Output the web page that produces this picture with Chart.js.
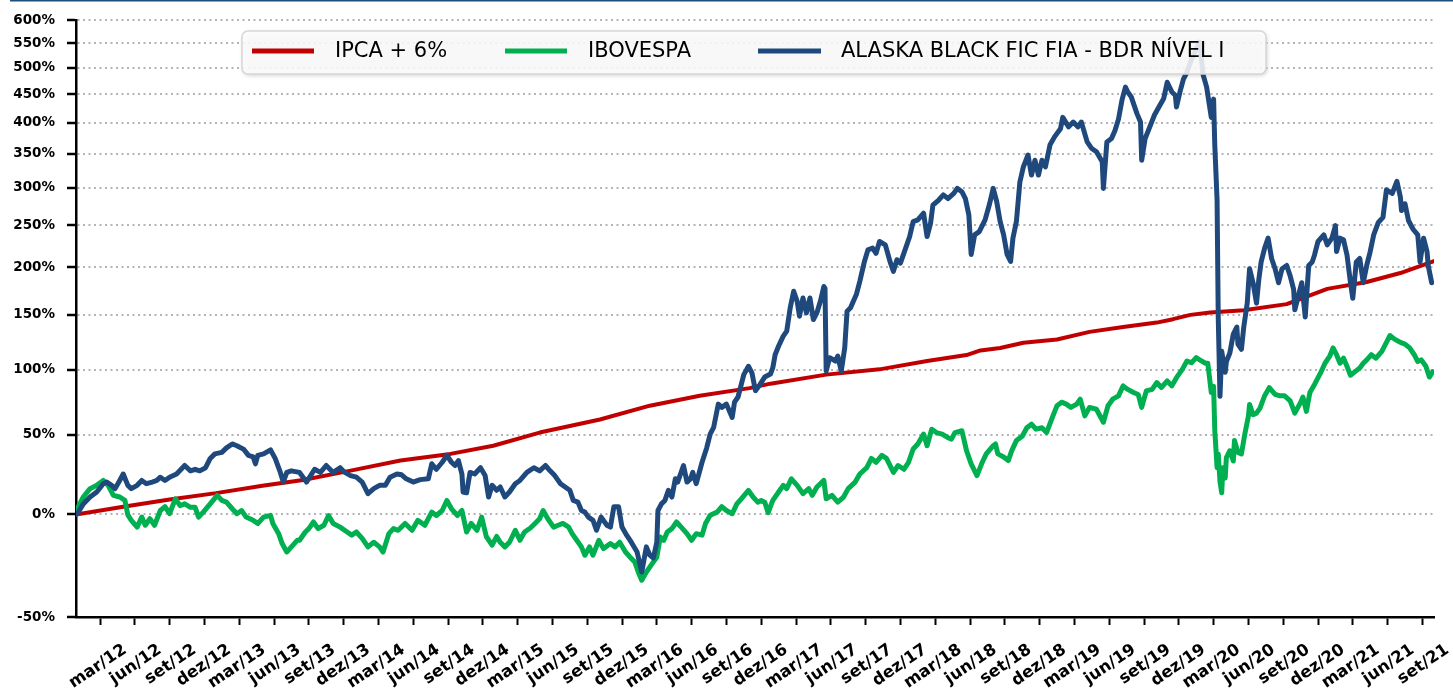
<!DOCTYPE html>
<html>
<head>
<meta charset="utf-8">
<script src="https://cdn.jsdelivr.net/npm/chart.js@4.4.0/dist/chart.umd.min.js"></script>
<style>
html,body{margin:0;padding:0;background:#fff;overflow:hidden}
canvas{display:block}
</style>
</head>
<body>
<canvas id="c" width="1453" height="693"></canvas>
<script>
// ---------- DATA ----------
// x = months since 1 Jan 2012 ; y = accumulated return in %
const seriesNames = ['IPCA + 6%', 'IBOVESPA', 'ALASKA BLACK FIC FIA - BDR NÍVEL I'];

const tickMonths = [2,5,8,11,14,17,20,23,26,29,32,35,38,41,44,47,50,53,56,59,62,65,68,71,74,77,80,83,86,89,92,95,98,101,104,107,110,113,116];
const tickLabels = ['mar/12','jun/12','set/12','dez/12','mar/13','jun/13','set/13','dez/13','mar/14','jun/14','set/14','dez/14',
  'mar/15','jun/15','set/15','dez/15','mar/16','jun/16','set/16','dez/16','mar/17','jun/17','set/17','dez/17',
  'mar/18','jun/18','set/18','dez/18','mar/19','jun/19','set/19','dez/19','mar/20','jun/20','set/20','dez/20',
  'mar/21','jun/21','set/21'];

const yTickPct = [-50,0,50,100,150,200,250,300,350,400,450,500,550,600];

const ipcaSeries = [[-0.07,0],[4,4.3],[8,8.6],[12,12.3],[16,16.8],[19.5,20.3],[23.5,26],[27.9,32.6],[32.2,37],[35.9,42.5],
  [39.9,51.6],[45.1,61],[49.4,71.3],[53.7,79],[58.0,85],[59.8,88.6],[64.6,96],[69.2,100.4],[73.3,107.5],[76.7,112.7],
  [77.9,116.8],[79.6,119],[81.6,123.7],[84.5,126.7],[87.3,133.7],[90.2,138.3],[93.1,142.5],[94.5,145.8],[96.0,150],
  [97.7,152.3],[100.6,154.6],[104.3,160.7],[107.8,176.5],[111.2,183.8],[114.1,193.6],[117,207]];

const ibovSeries = [[-0.07,0],[0.13,4.4],[0.56,10],[1.14,15],[1.72,17],[2.28,20],[2.7,17],[3.15,11],[3.7,10],[4.15,8],
  [4.4,-0.3],[4.7,-3.3],[5.2,-7],[5.6,-1.5],[5.9,-6],[6.3,-2.4],[6.7,-6],[7.2,2.2],[7.6,4.4],[8.0,0.4],[8.5,9],[8.9,5],
  [9.3,6],[9.8,4],[10.2,4],[10.5,-1.5],[10.9,1.3],[11.5,6],[12.1,11],[12.5,8],[12.9,7],[13.4,3.2],[13.8,0.4],[14.2,2.2],
  [14.6,-1.5],[15.2,-3.3],[15.6,-5],[16.1,-1.5],[16.7,-0.5],[16.9,-5],[17.4,-10.5],[17.7,-15.7],[18.1,-20],[18.5,-17.4],
  [19.0,-14],[19.2,-14],[19.7,-9.6],[20.0,-7.8],[20.4,-4.2],[20.8,-7.8],[21.3,-6],[21.7,-0.6],[22.1,-5],[22.7,-7],
  [23.3,-9.6],[23.7,-11.3],[24.1,-9.6],[24.6,-13],[25.1,-17.4],[25.6,-15],[26.1,-17.4],[26.4,-20],[26.9,-10.5],[27.3,-7.8],
  [27.7,-8.7],[28.3,-5],[28.9,-8.7],[29.4,-3.3],[30.0,-6],[30.6,1.3],[31.0,-0.6],[31.5,2.2],[31.9,8],[32.3,3.2],[32.8,-0.6],
  [33.2,2.2],[33.6,-9.6],[34.0,-5],[34.5,-8.7],[34.9,-1.5],[35.3,-12],[35.8,-16.5],[36.2,-12],[36.5,-15],[36.9,-17.4],
  [37.3,-15],[37.8,-8.7],[38.2,-14],[38.6,-9.6],[39.1,-7.5],[39.5,-5],[39.9,-2.4],[40.2,2.2],[40.6,-2.4],[41.1,-7],[41.5,-6],
  [41.9,-5],[42.4,-7],[42.7,-10.5],[43.1,-14],[43.5,-17.4],[43.8,-21.6],[44.2,-17.4],[44.5,-21.6],[45.0,-14],[45.4,-18.3],
  [46.0,-15.7],[46.4,-17.4],[46.8,-15],[47.3,-20],[47.7,-22.6],[48.1,-25],[48.4,-29.8],[48.7,-33.7],[49.1,-29.8],[49.6,-25.8],
  [50.0,-22.6],[50.3,-12.3],[50.6,-14],[50.9,-9.6],[51.3,-7.8],[51.7,-4.2],[52.1,-7],[52.6,-10.5],[53.0,-14],[53.4,-10.5],
  [53.9,-11.3],[54.2,-5],[54.6,-0.5],[55.2,1.3],[55.6,4.4],[56.0,2.2],[56.5,0.4],[56.9,6],[57.3,9],[57.9,13.9],[58.3,10],
  [58.7,7],[59.0,8],[59.3,7],[59.6,1],[60.0,8],[60.5,13],[60.9,17],[61.2,15],[61.6,21],[62.1,17],[62.6,12],[63.1,15],
  [63.4,11],[63.8,16],[64.4,20],[64.6,9],[65.1,11],[65.6,7],[66.1,10],[66.5,15],[67.1,19],[67.5,24],[68.1,28],[68.5,34],
  [68.9,31.5],[69.4,36],[69.8,34],[70.4,25],[70.8,29.4],[71.3,27],[71.7,31.5],[72.1,40.3],[72.5,43.7],[73.0,50.5],[73.3,42.5],
  [73.7,54],[74.1,51.6],[74.6,50.5],[75.1,48],[75.4,47],[75.7,51.6],[76.3,52.9],[76.7,39.2],[77.1,30.5],[77.6,23],[78.0,30.5],
  [78.4,37],[79.0,42.5],[79.2,43.7],[79.4,37],[79.9,35],[80.3,32.6],[80.6,39.2],[81.0,46],[81.5,49],[81.9,55],[82.3,57.6],
  [82.7,54],[83.2,55],[83.6,51.6],[84.1,62.5],[84.5,71.3],[84.9,74],[85.3,72.5],[85.7,70],[86.2,72.5],[86.5,76.3],[86.9,63.7],
  [87.3,70],[87.9,68.6],[88.5,59],[88.9,71.3],[89.3,76.3],[89.8,78.9],[90.2,86.8],[90.6,84],[91.1,81.5],[91.5,80],[91.8,70],
  [92.2,82.8],[92.7,84],[93.1,89.5],[93.5,85.5],[94.0,90.8],[94.4,86.8],[94.8,93.5],[95.3,100.4],[95.7,107.5],[96.1,106],
  [96.5,110.4],[96.8,108.5],[97.3,105.6],[97.5,105.6],[97.8,81.5],[98.0,86.5],[98.1,53.4],[98.3,28],[98.4,37],[98.55,19.3],
  [98.7,12.5],[98.8,28],[99.0,21.5],[99.1,34.6],[99.4,39.1],[99.7,32.3],[99.8,46.1],[100.1,38],[100.4,37],[100.7,51],
  [101.0,63.3],[101.1,72.3],[101.4,64.5],[101.7,65.7],[102.0,69.5],[102.4,79],[102.8,85.4],[103.3,80],[103.7,79],[104.1,79],
  [104.6,75],[105.0,65.7],[105.5,73.8],[105.7,78],[106.0,67],[106.3,81.5],[106.7,88],[107.2,97],[107.6,105.6],[108.0,111.5],
  [108.3,119],[108.6,113],[108.9,105.6],[109.2,110],[109.5,103],[109.8,95.5],[110.2,98.5],[110.6,101.5],[110.9,105.6],
  [111.2,108.5],[111.6,113],[112.0,110],[112.5,116],[112.9,124],[113.2,130.3],[113.6,127],[114.1,124],[114.5,122.5],
  [114.9,119],[115.3,113],[115.6,107],[115.9,108.5],[116.3,103],[116.6,94],[116.9,98.5]];

const alaskaSeries = [[-0.07,0],[0.13,1.3],[0.56,6],[1.14,10],[1.72,13],[2.28,18],[2.58,19],[3.0,17],[3.3,15],[3.7,20],
  [4.0,24],[4.4,17],[4.7,15],[5.2,17],[5.6,20],[6.0,18],[6.5,19],[6.9,20],[7.2,22],[7.6,20],[8.0,22],[8.6,24],[9.3,29.4],
  [9.8,26],[10.2,27],[10.6,26],[11.1,28],[11.5,34],[11.9,37],[12.5,38],[12.9,41],[13.4,43.7],[13.8,42.5],[14.4,40],[14.8,36],
  [15.2,35],[15.4,30.5],[15.6,36],[16.1,37],[16.7,39.7],[17.1,34],[17.5,26],[17.8,19],[18.1,25],[18.5,26],[19.2,25],[19.5,22],
  [19.8,19],[20.5,27],[21.0,25],[21.5,29.4],[22.1,25],[22.7,28],[23.1,25],[23.6,23],[24.1,22],[24.6,19],[25.1,12],[25.6,15],
  [26.1,17],[26.6,17],[27.0,22],[27.6,24],[28.0,23.5],[28.4,21],[29.0,19],[29.6,20.5],[30.3,21],[30.6,30.5],[31.0,27],
  [31.5,31.5],[31.9,36],[32.3,31.5],[32.6,29.4],[32.9,32.6],[33.2,24],[33.3,13],[33.6,12.5],[33.9,25],[34.3,24],[34.8,28],
  [35.2,23],[35.5,10],[35.8,17],[36.2,14],[36.5,16],[36.9,10],[37.3,13],[37.8,18],[38.2,20],[38.8,25],[39.4,28],[39.9,26],
  [40.4,29.4],[40.8,26],[41.2,23],[41.7,18],[42.1,16],[42.5,14],[42.8,8],[43.2,7],[43.5,2.2],[43.8,1.3],[44.1,-1.5],
  [44.5,-3.3],[44.8,-8.7],[45.2,-1.5],[45.7,-6],[46.0,-7],[46.3,4.4],[46.7,4.4],[47.0,-7],[47.4,-11.3],[47.8,-15],[48.3,-20],
  [48.7,-29.8],[49.1,-17.4],[49.4,-21.6],[49.7,-23],[50.0,-15],[50.1,2.2],[50.4,6],[50.7,8],[51.0,14],[51.3,10],[51.6,21],
  [51.8,19],[52.3,29.4],[52.6,19],[52.9,21],[53.1,25],[53.4,18],[53.9,31.5],[54.3,41],[54.6,50.5],[54.9,55.3],[55.3,72.5],
  [55.6,70],[56.0,72.5],[56.5,62.5],[56.7,74],[57.0,78],[57.5,96],[57.9,103],[58.2,97.5],[58.5,83],[58.9,88],[59.3,94],
  [59.8,96.5],[60.0,101.8],[60.2,113],[60.5,120.7],[60.9,129.8],[61.2,134.4],[61.5,157],[61.8,174],[62.1,163.6],[62.3,148.7],
  [62.6,167],[62.9,152],[63.2,167],[63.5,145.4],[63.8,152],[64.1,163.6],[64.4,179],[64.5,177],[64.6,99],[64.9,110.4],
  [65.4,107.5],[65.6,111.8],[65.9,99],[66.2,119],[66.4,153.6],[66.7,157],[67.2,170.5],[67.5,184.5],[67.9,206.6],[68.2,220],
  [68.6,222],[68.9,216],[69.2,230],[69.7,226],[70.1,206.6],[70.4,195.4],[70.7,208.5],[71.0,204.7],[71.4,220],[71.8,236],
  [72.1,254.7],[72.5,256.8],[73.0,265.4],[73.3,236],[73.6,252.5],[73.8,276],[74.3,283],[74.7,290],[75.1,285],[75.6,292],
  [75.9,299],[76.3,294.4],[76.6,285],[76.9,263.3],[77.1,214.6],[77.4,238],[77.8,242],[78.3,256.8],[78.7,278.6],[79.0,299],
  [79.3,281],[79.6,254.7],[79.9,238],[80.2,214.6],[80.5,206.6],[80.7,234],[81.0,254.7],[81.3,308],[81.6,330],[82.0,348],
  [82.3,318],[82.6,340],[82.9,318],[83.2,340],[83.5,330],[83.9,364],[84.3,377],[84.8,390],[85.0,409],[85.5,393],[85.9,401],
  [86.3,393],[86.6,401],[87.1,368.5],[87.5,358],[87.9,353],[88.4,337.6],[88.5,299],[88.8,368.5],[89.2,374],[89.5,387],
  [89.8,406],[90.1,439],[90.4,463],[90.6,454],[90.9,445],[91.4,415],[91.7,401],[91.8,340],[92.1,374],[92.5,393],[92.9,413],
  [93.2,424],[93.7,442],[94.0,472],[94.4,454],[94.7,448],[94.8,427],[95.1,454],[95.4,478],[95.7,491],[96.0,511],[96.5,538],
  [96.8,552],[97.1,486],[97.4,463],[97.8,409],[98.0,441],[98.1,364],[98.3,283],[98.4,148],[98.55,78.5],[98.7,116],[99.0,98],
  [99.1,107],[99.4,114.5],[99.7,131.7],[100.0,138.3],[100.1,122.5],[100.4,117.8],[100.6,138.3],[100.9,161.7],[101.1,198.4],
  [101.4,183],[101.7,161.7],[101.9,186.8],[102.1,206],[102.4,222],[102.7,234],[103.0,210],[103.3,198.4],[103.6,183],
  [103.9,198.4],[104.3,202],[104.6,190.5],[104.9,176],[105.0,155],[105.3,168.8],[105.6,183],[105.9,148],[106.2,202],
  [106.5,206],[106.7,214],[107.0,230],[107.5,238],[107.8,226],[108.2,234],[108.5,249.6],[108.6,218],[108.9,234],[109.2,232],
  [109.5,214],[109.8,183],[110.0,166.6],[110.3,206],[110.6,210],[110.9,183],[111.2,202],[111.5,218],[111.8,238],[112.2,253.5],
  [112.6,260],[112.9,297],[113.4,292],[113.8,309],[114.1,287],[114.2,269],[114.5,278],[114.8,256],[115.2,245],[115.6,238],
  [115.8,206],[116.1,234],[116.4,218],[116.5,202],[116.8,183]];

// ---------- CHART ----------
// The value axis is logarithmic in (return + 2): plotted value = pct + OFFSET
const OFFSET = 200;
const colors = ['#C00000', '#00B050', '#1F497D'];
const toPts = s => s.map(p => ({x: p[0], y: p[1] + OFFSET}));

const topRule = {
  id: 'topRule',
  beforeDraw(chart) {
    const ctx = chart.ctx;
    ctx.save();
    ctx.fillStyle = '#fff';
    ctx.fillRect(0, 0, chart.width, chart.height);
    ctx.fillStyle = '#1F4E79';
    ctx.fillRect(10, 0, chart.width - 10, 1.5);
    ctx.restore();
  }
};

const boxLegend = {
  id: 'boxLegend',
  afterDraw(chart) {
    const ctx = chart.ctx;
    const bx = 242, by = 31, bw = 1024, bh = 43, r = 6;
    ctx.save();
    ctx.beginPath();
    ctx.moveTo(bx + r, by);
    ctx.arcTo(bx + bw, by, bx + bw, by + bh, r);
    ctx.arcTo(bx + bw, by + bh, bx, by + bh, r);
    ctx.arcTo(bx, by + bh, bx, by, r);
    ctx.arcTo(bx, by, bx + bw, by, r);
    ctx.closePath();
    ctx.shadowColor = 'rgba(0,0,0,0.22)';
    ctx.shadowBlur = 4;
    ctx.shadowOffsetX = 1;
    ctx.shadowOffsetY = 1.5;
    ctx.fillStyle = 'rgba(255,255,255,0.86)';
    ctx.fill();
    ctx.shadowColor = 'transparent';
    ctx.lineWidth = 1.5;
    ctx.strokeStyle = '#d6d6d6';
    ctx.stroke();
    const items = [
      {x1: 252, x2: 314, tx: 335},
      {x1: 505, x2: 567, tx: 588},
      {x1: 758, x2: 821, tx: 841}
    ];
    const cy = 51;
    ctx.font = '21px "DejaVu Sans", sans-serif';
    ctx.textBaseline = 'middle';
    ctx.textAlign = 'left';
    items.forEach((it, i) => {
      ctx.beginPath();
      ctx.moveTo(it.x1, cy);
      ctx.lineTo(it.x2, cy);
      ctx.lineWidth = 5;
      ctx.strokeStyle = colors[i];
      ctx.stroke();
      ctx.fillStyle = '#000';
      ctx.fillText(seriesNames[i], it.tx, cy + 1);
    });
    ctx.restore();
  }
};

new Chart(document.getElementById('c'), {
  type: 'line',
  data: {
    datasets: [
      {label: seriesNames[0], data: toPts(ipcaSeries), borderColor: colors[0], borderWidth: 4, order: 2},
      {label: seriesNames[1], data: toPts(ibovSeries), borderColor: colors[1], borderWidth: 5, order: 1},
      {label: seriesNames[2], data: toPts(alaskaSeries), borderColor: colors[2], borderWidth: 5, order: 0}
    ]
  },
  options: {
    responsive: false,
    animation: false,
    devicePixelRatio: 1,
    layout: {padding: {top: 18, left: 0, right: 19, bottom: 0}},
    elements: {
      point: {radius: 0},
      line: {tension: 0, borderJoinStyle: 'round', borderCapStyle: 'round', fill: false}
    },
    plugins: {legend: {display: false}, tooltip: {enabled: false}},
    scales: {
      x: {
        type: 'linear',
        min: -0.07,
        max: 117,
        afterBuildTicks: s => { s.ticks = tickMonths.map(v => ({value: v})); },
        afterFit: s => { s.height = 76; },
        grid: {drawOnChartArea: false, drawTicks: true, tickLength: 8, tickColor: '#000', tickWidth: 2},
        border: {display: true, color: '#000', width: 2.5},
        ticks: {
          autoSkip: false,
          minRotation: 34,
          maxRotation: 34,
          padding: 15,
          labelOffset: 25,
          color: '#000',
          font: {family: '"DejaVu Sans", Verdana, sans-serif', size: 16.5, weight: 'bold'},
          callback: (v, i) => tickLabels[i]
        }
      },
      y: {
        type: 'logarithmic',
        min: yTickPct[0] + OFFSET,
        max: yTickPct[yTickPct.length - 1] + OFFSET,
        afterBuildTicks: s => { s.ticks = yTickPct.map(v => ({value: v + OFFSET})); },
        afterFit: s => { s.width = 76; },
        grid: {color: '#b4b4b4', lineWidth: 2, drawTicks: true, tickLength: 9, tickColor: '#000', tickWidth: 2.5},
        border: {display: true, color: '#000', width: 2.5, dash: [2, 3.5]},
        ticks: {
          autoSkip: false,
          padding: 12,
          color: '#000',
          font: {family: '"DejaVu Sans", Verdana, sans-serif', size: 13.5, weight: 'bold'},
          callback: v => (Math.round(v - OFFSET)) + '%'
        }
      }
    }
  },
  plugins: [topRule, boxLegend]
});
</script>
</body>
</html>
